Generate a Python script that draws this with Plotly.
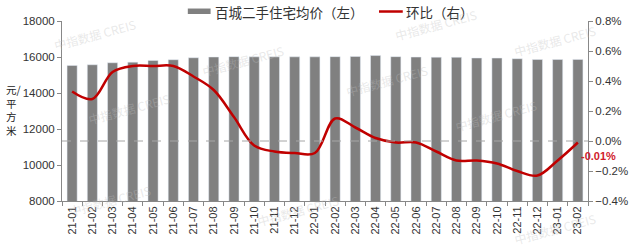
import plotly.graph_objects as go

categories = ["21-01", "21-02", "21-03", "21-04", "21-05", "21-06", "21-07", "21-08",
              "21-09", "21-10", "21-11", "21-12", "22-01", "22-02", "22-03", "22-04",
              "22-05", "22-06", "22-07", "22-08", "22-09", "22-10", "22-11", "22-12",
              "23-01", "23-02"]
price = [15530, 15570, 15680, 15715, 15810, 15850, 15960, 16000,
         16020, 16010, 16010, 16010, 16010, 16020, 16030, 16080,
         16020, 15995, 15990, 15985, 15945, 15940, 15905, 15860,
         15860, 15868]
mom = [0.33, 0.28, 0.46, 0.50, 0.50, 0.50, 0.43, 0.34,
       0.16, -0.03, -0.07, -0.08, -0.08, 0.15, 0.09, 0.02,
       -0.01, -0.01, -0.07, -0.13, -0.13, -0.15, -0.20, -0.23,
       -0.13, -0.01]
bar_name = "百城二手住宅均价（左）"
line_name = "环比（右）"
last_label = "-0.01%"
y_title = "元/<br>平<br>方<br>米"
watermark = "中指数据 CREIS"

FONT = "Liberation Sans, Arial, sans-serif"
CJK = "Noto Sans CJK SC, sans-serif"
W, H = 640, 247
L, R, T, B = 62, 47, 20.5, 46.3
PW, PH = W - L - R, H - T - B

def px(x):
    return (x - L) / PW

def py(y):
    return (H - B - y) / PH

fig = go.Figure()
fig.add_trace(go.Bar(x=categories, y=price, name=bar_name, marker_color="#808080",
                     width=0.5, yaxis="y", showlegend=False))
fig.add_trace(go.Scatter(x=categories, y=mom, name=line_name, mode="lines",
                         line=dict(color="#C00000", width=2.5, shape="spline", smoothing=1.0),
                         yaxis="y2", showlegend=False))

shapes = [
    dict(type="line", xref="paper", x0=0, x1=1, yref="y2", y0=0, y1=0,
         line=dict(color="#A6A6A6", width=1, dash="dash"), layer="above"),
    dict(type="rect", xref="paper", yref="paper", x0=px(189), x1=px(212),
         y0=py(13.5), y1=py(8), fillcolor="#808080", line=dict(width=0)),
    dict(type="line", xref="paper", yref="paper", x0=px(382), x1=px(406),
         y0=py(11), y1=py(11), line=dict(color="#C00000", width=2.5)),
]

annotations = [
    dict(text=bar_name, xref="paper", yref="paper", x=px(214), y=py(11),
         xanchor="left", yanchor="middle", showarrow=False,
         font=dict(family=CJK, size=13.5, color="#333333")),
    dict(text=line_name, xref="paper", yref="paper", x=px(407), y=py(11),
         xanchor="left", yanchor="middle", showarrow=False,
         font=dict(family=CJK, size=13.5, color="#333333")),
    dict(text="<b>" + last_label + "</b>", xref="paper", yref="paper", x=px(604), y=py(156),
         xanchor="center", yanchor="middle", showarrow=False,
         font=dict(family=FONT, size=11, color="#D0202A")),
    dict(text=y_title, xref="paper", yref="paper", x=px(3), y=py(110),
         xanchor="left", yanchor="middle", showarrow=False, align="left",
         font=dict(family=CJK, size=10.5, color="#222222")),
]

for (wx, wy) in [(95, 34), (390, 80), (130, 108), (500, 115), (110, 200),
                 (300, 210), (560, 228), (560, 40), (440, 24), (245, 60)]:
    annotations.append(dict(text=watermark, xref="paper", yref="paper", x=px(wx), y=py(wy),
                            xanchor="center", yanchor="middle", showarrow=False, textangle=-15,
                            font=dict(family=CJK, size=12, color="rgba(190,190,190,0.35)")))

fig.update_layout(
    width=W, height=H,
    margin=dict(l=L, r=R, t=T, b=B),
    paper_bgcolor="white", plot_bgcolor="white",
    font=dict(family=FONT, size=11, color="#333333"),
    bargap=0.5,
    xaxis=dict(type="category", tickangle=-90, tickson="boundaries", ticks="outside",
               ticklen=4, tickcolor="#888888", showline=True, linecolor="#888888",
               showgrid=False, tickfont=dict(size=11, color="#333333")),
    yaxis=dict(range=[8000, 18000], dtick=2000, tickformat="d", showgrid=False, zeroline=False,
               showline=True, linecolor="#888888", ticks="outside", ticklen=4,
               tickcolor="#888888", tickfont=dict(size=11.5, color="#333333")),
    yaxis2=dict(range=[-0.4, 0.8], dtick=0.2, overlaying="y", side="right",
                tickformat=".1f", ticksuffix="%", showgrid=False, zeroline=False,
                showline=True, linecolor="#888888", ticks="outside", ticklen=4,
                tickcolor="#888888", tickfont=dict(size=11.5, color="#333333")),
    shapes=shapes,
    annotations=annotations,
)

fig.write_html("out.html")
